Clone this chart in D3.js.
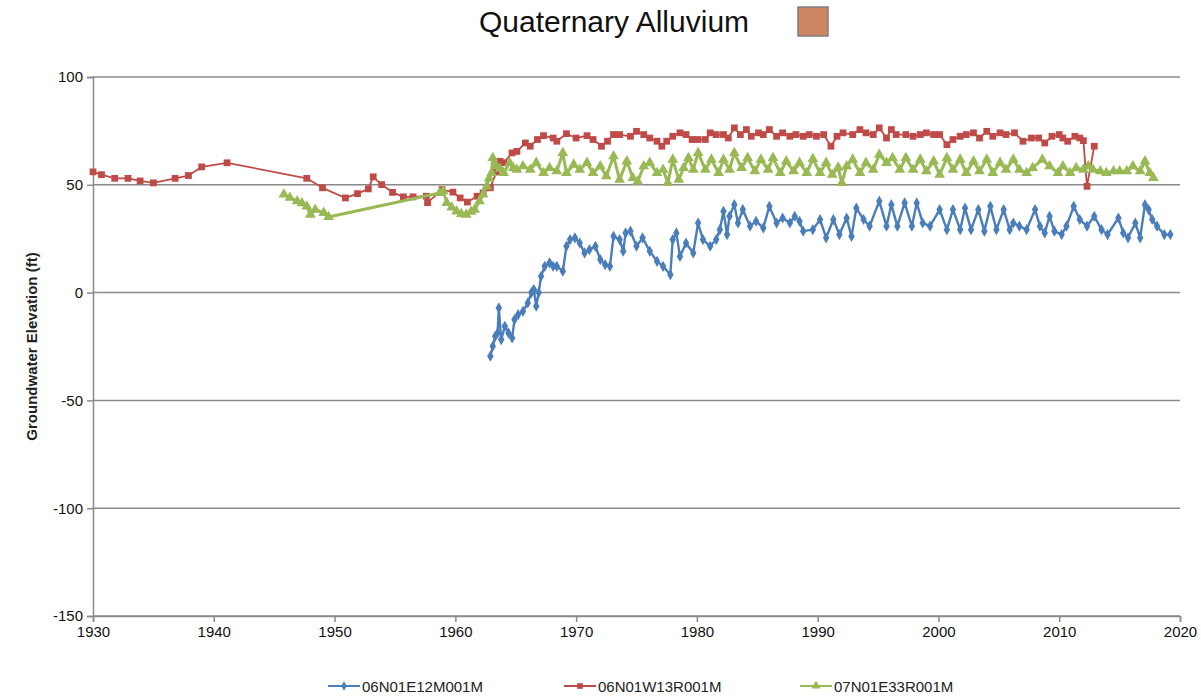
<!DOCTYPE html>
<html>
<head>
<meta charset="utf-8">
<script src="https://cdn.jsdelivr.net/npm/d3@7"></script>
<style>
  body { margin: 0; background: #fff; }
  text { font-family: "Liberation Sans", Arial, sans-serif; }
</style>
</head>
<body>
<svg width="1201" height="696"></svg>
<script>
// well hydrographs, [decimal year, elevation ft]
const bluePoints = [
  [1962.9,-29.5],[1963.1,-24.9],[1963.3,-20.3],[1963.5,-18.7],[1963.6,-7.1],[1963.8,-21.8],[1964.1,-15.6],
  [1964.4,-18.7],[1964.7,-21],[1964.9,-12.5],[1965.2,-10.2],[1965.6,-8.7],[1966.0,-4.8],[1966.3,0],
  [1966.5,1.4],[1966.7,-6.3],[1966.9,0],[1967.1,7.6],[1967.4,12.2],[1967.8,13.8],[1968.1,12.2],
  [1968.4,12.2],[1968.9,9.9],[1969.2,21.5],[1969.5,24.6],[1969.9,25.4],[1970.3,23],[1970.7,18.4],
  [1971.1,19.9],[1971.6,21.5],[1972.0,15.3],[1972.4,13],[1972.8,12.2],[1973.1,26.1],[1973.6,24.6],
  [1973.9,19.2],[1974.1,27.7],[1974.5,28.5],[1975.0,21.5],[1975.5,25.4],[1976.1,19.2],[1976.7,14.5],
  [1977.2,12.2],[1977.8,8.3],[1978.0,24.6],[1978.3,27.7],[1978.6,16.8],[1979.1,23],[1979.7,18.4],
  [1980.1,32.3],[1980.5,24.6],[1981.1,21.5],[1981.6,24.6],[1981.9,29.2],[1982.2,37.7],[1982.5,26.9],
  [1982.7,35.4],[1983.1,40.8],[1983.4,32.3],[1983.8,38.5],[1984.4,30.8],[1984.9,33.1],[1985.5,30],
  [1986.0,40],[1986.6,32.3],[1987.1,34.6],[1987.7,32.3],[1988.1,35.4],[1988.5,33.1],[1988.8,28.5],
  [1989.6,29.2],[1990.2,33.9],[1990.7,25.4],[1991.3,33.9],[1991.8,26.9],[1992.4,34.6],[1992.8,26.1],
  [1993.2,39.2],[1993.8,33.9],[1994.3,30.8],[1995.1,42.4],[1995.7,30.8],[1996.1,40.8],[1996.6,30.8],
  [1997.2,41.6],[1997.8,30.8],[1998.2,41.6],[1998.7,32.3],[1999.3,30.8],[2000.1,38.5],[2000.7,29.2],
  [2001.2,38.5],[2001.8,29.2],[2002.2,39.2],[2002.7,29.2],[2003.3,38.5],[2003.8,28.5],[2004.3,40],
  [2004.8,29.2],[2005.4,38.5],[2005.9,29.2],[2006.2,32.3],[2006.7,30.8],[2007.3,29.2],[2008.0,38.5],
  [2008.4,30.8],[2008.8,27.7],[2009.2,35.4],[2009.6,28.5],[2010.2,26.9],[2010.6,30.8],[2011.2,40],
  [2011.7,33.9],[2012.3,30.8],[2012.9,35.4],[2013.5,29.2],[2014.0,26.9],[2014.9,34.6],[2015.3,27.7],
  [2015.7,25.4],[2016.3,32.3],[2016.7,25.4],[2017.1,40.8],[2017.4,38.5],[2017.7,33.9],[2018.1,30.8],
  [2018.7,26.9],[2019.2,26.9]
];

const redPoints = [
  [1930.0,56],[1930.7,54.7],[1931.8,53],[1932.9,53],[1933.9,51.8],[1935.0,50.9],[1936.8,53],[1937.9,54.3],
  [1939.0,58.3],[1941.1,60.2],[1947.7,53],[1949.0,48.6],[1950.9,43.9],[1951.9,45.9],[1952.8,48.1],
  [1953.2,53.7],[1953.9,50.1],[1954.8,46.5],[1955.7,44.4],[1956.5,44.4],[1957.6,44.7],[1957.7,41.7],
  [1958.9,47.8],[1959.8,46.6],[1960.4,43.9],[1961.0,42],[1961.8,44.7],[1962.3,46.2],[1962.9,48.6],
  [1963.4,56],[1963.7,60.9],[1964.0,60.2],[1964.7,64.8],[1965.1,65.5],[1965.8,69.4],[1966.2,67.9],
  [1966.8,71],[1967.3,72.8],[1968.1,71.7],[1968.4,70.2],[1969.2,73.7],[1970.0,71.7],[1970.9,72.8],
  [1971.4,71],[1972.1,67.9],[1972.6,70.2],[1973.1,73.3],[1973.6,73.3],[1974.5,72.5],[1975.0,74.8],
  [1975.6,73.3],[1976.1,71.7],[1976.7,70.2],[1977.1,67.9],[1977.5,70.2],[1978.0,72.5],[1978.6,74.1],
  [1979.1,73.3],[1979.6,71],[1980.1,71],[1980.7,71],[1981.1,74.1],[1981.6,73.3],[1982.2,73.3],
  [1982.6,71.7],[1983.1,76.4],[1983.6,73.3],[1984.1,75.6],[1984.5,72.5],[1985.1,74.1],[1985.5,73.3],
  [1986.0,75.6],[1986.6,72.5],[1987.1,74.1],[1987.7,72.5],[1988.2,73.3],[1988.8,72.5],[1989.3,73.3],
  [1989.9,72.5],[1990.5,73.3],[1991.1,67.9],[1991.6,72.5],[1992.1,74.1],[1992.9,73.3],[1993.5,75.6],
  [1994.0,74.1],[1994.6,73.3],[1995.1,76.4],[1995.7,71.7],[1996.1,75.6],[1996.5,73.3],[1997.3,73.3],
  [1997.9,72.5],[1998.5,73.3],[1999.0,74.1],[1999.6,73.3],[2000.1,73.3],[2000.7,68.6],[2001.2,71],
  [2001.8,72.5],[2002.3,73.3],[2002.9,74.1],[2003.4,71.7],[2004.0,74.8],[2004.5,72.5],[2005.1,74.1],
  [2005.6,73.3],[2006.3,74.1],[2007.0,70.2],[2007.7,71.7],[2008.3,71.7],[2008.8,69.4],[2009.4,72.5],
  [2010.0,73.3],[2010.3,71.7],[2010.7,70.2],[2011.3,72.5],[2011.7,71.7],[2012.0,70.5],[2012.3,49.3],
  [2012.9,67.9]
];

const greenPoints = [
  [1945.8,45.5],[1946.3,44],[1946.9,42.4],[1947.3,41.5],[1947.7,40],[1948.0,36.2],[1948.4,38.5],
  [1949.1,37],[1949.5,35.1],[1958.7,46.2],[1959.0,47],[1959.3,41.6],[1959.7,39.5],[1960.1,37.7],
  [1960.5,36.5],[1960.9,36.2],[1961.3,37.5],[1961.6,38.5],[1962.0,42.4],[1962.3,45.5],[1962.6,49.3],
  [1962.8,53],[1963.0,55.5],[1963.1,62.5],[1963.4,58.6],[1963.7,57.5],[1964.0,55.5],[1964.5,60.2],
  [1964.8,57.8],[1965.1,57],[1965.6,58.6],[1966.2,57],[1966.7,60.2],[1967.3,55.5],[1967.8,57.8],
  [1968.4,56.3],[1968.9,64.8],[1969.2,55.5],[1969.8,59.4],[1970.3,57],[1970.9,60.2],[1971.4,55.5],
  [1972.0,58.6],[1972.5,54],[1973.1,63.3],[1973.6,52.4],[1974.2,60.9],[1974.7,53.2],[1975.1,51.6],
  [1975.6,58.6],[1976.1,60.2],[1976.7,55.5],[1977.2,57],[1977.6,50.9],[1978.0,61.7],[1978.5,52.4],
  [1978.9,57.8],[1979.3,62.5],[1979.7,57],[1980.1,64.8],[1980.7,57],[1981.2,61.7],[1981.8,55.5],
  [1982.2,61.7],[1982.7,57],[1983.1,64.8],[1983.7,57.8],[1984.2,62.5],[1984.8,56.3],[1985.3,61.7],
  [1985.9,57],[1986.3,62.5],[1986.9,55.5],[1987.4,60.9],[1988.0,56.3],[1988.5,60.2],[1989.1,55.5],
  [1989.6,62],[1990.2,55.5],[1990.7,60.2],[1991.2,54.7],[1991.7,58],[1992.0,50.9],[1992.4,58.6],
  [1992.9,61.7],[1993.5,55.5],[1994.0,60.2],[1994.6,57],[1995.1,64],[1995.7,60.2],[1996.2,62.5],
  [1996.8,57],[1997.3,62.5],[1997.9,57],[1998.5,61.7],[1999.0,56.3],[1999.6,60.9],[2000.1,54.7],
  [2000.7,62.5],[2001.2,57],[2001.8,61.7],[2002.3,55.5],[2002.9,60.9],[2003.4,56.3],[2004.0,61.7],
  [2004.5,55.5],[2005.1,60.2],[2005.6,57],[2006.2,61.7],[2006.7,57],[2007.3,55.5],[2007.8,57.8],
  [2008.6,61.7],[2009.2,58.6],[2009.9,55.5],[2010.3,58.6],[2010.9,55.5],[2011.4,57.8],[2012.0,57],
  [2012.4,58.6],[2012.8,57],[2013.4,56.3],[2013.9,55.5],[2014.5,56.3],[2015.0,56.3],[2015.6,56.3],
  [2016.1,58.6],[2016.7,56.3],[2017.1,60.9],[2017.5,55.5],[2017.8,53.2]
];

const seriesNames = ["06N01E12M001M", "06N01W13R001M", "07N01E33R001M"];
const yTicks = [-150, -100, -50, 0, 50, 100];
const xTicks = [1930, 1940, 1950, 1960, 1970, 1980, 1990, 2000, 2010, 2020];

const svg = d3.select("svg");
var width = +svg.attr("width");
var height = +svg.attr("height");

const plot = { left: 93, right: 1180, top: 77, bottom: 616 };

var x = d3.scaleLinear().domain([1930, 2020]).range([plot.left, plot.right]);
var y = d3.scaleLinear().domain([-150, 100]).range([plot.bottom, plot.top]);

svg.append("rect").attr("width", width).attr("height", height).attr("fill", "#fff");

// title + the little formation swatch
svg.append("text")
  .attr("x", 614)
  .attr("y", 32)
  .attr("text-anchor", "middle")
  .attr("font-size", 30)
  .attr("fill", "#111")
  .text("Quaternary Alluvium");
svg.append("rect")
  .attr("x", 798).attr("y", 7).attr("width", 30).attr("height", 29)
  .attr("fill", "#cc8661").attr("stroke", "#7f7f7f").attr("stroke-width", 1.5);

// horizontal gridlines
svg.append("g")
  .selectAll("line")
  .data(yTicks)
  .join("line")
  .attr("x1", plot.left)
  .attr("x2", plot.right)
  .attr("y1", function (d) { return y(d); })
  .attr("y2", function (d) { return y(d); })
  .attr("stroke", "#8a8a8a")
  .attr("stroke-width", 1.5);

// axes (plain hyphen for negatives, like the original)
var yAxis = svg.append("g")
  .attr("transform", "translate(" + plot.left + ",0)")
  .call(d3.axisLeft(y).tickValues(yTicks).tickSize(6).tickPadding(4)
    .tickFormat(function (d) { return String(d); }));
var xAxis = svg.append("g")
  .attr("transform", "translate(0," + plot.bottom + ")")
  .call(d3.axisBottom(x).tickValues(xTicks).tickSize(6).tickPadding(4)
    .tickFormat(function (d) { return String(d); }));

[yAxis, xAxis].forEach(function (g) {
  g.select(".domain").attr("stroke", "#8a8a8a").attr("stroke-width", 1.5);
  g.selectAll(".tick line").attr("stroke", "#8a8a8a").attr("stroke-width", 1.5);
  g.selectAll(".tick text")
    .attr("font-size", 15)
    .attr("font-family", "'Liberation Sans', Arial, sans-serif")
    .attr("fill", "#111");
});

svg.append("text")
  .attr("transform", "translate(31," + (y(-25)) + ") rotate(-90)")
  .attr("text-anchor", "middle")
  .attr("dominant-baseline", "central")
  .attr("font-size", 15)
  .attr("font-weight", "bold")
  .attr("fill", "#222")
  .text("Groundwater Elevation (ft)");

// series
const series = [
  { name: seriesNames[0], data: bluePoints, color: "#4a7ebb", symbol: d3.symbolDiamond, size: 36, width: 2.4 },
  { name: seriesNames[1], data: redPoints, color: "#be4b48", symbol: d3.symbolSquare, size: 46, width: 1.8 },
  { name: seriesNames[2], data: greenPoints, color: "#98b954", symbol: d3.symbolTriangle, size: 50, width: 3 }
];

var line = d3.line()
  .x(function (d) { return x(d[0]); })
  .y(function (d) { return y(d[1]); });

series.forEach(function (s) {
  var g = svg.append("g");
  g.append("path")
    .datum(s.data)
    .attr("d", line)
    .attr("fill", "none")
    .attr("stroke", s.color)
    .attr("stroke-width", s.width)
    .attr("stroke-linejoin", "round");
  g.selectAll("path.pt")
    .data(s.data)
    .join("path")
    .attr("class", "pt")
    .attr("d", d3.symbol().type(s.symbol).size(s.size))
    .attr("transform", function (d) { return "translate(" + x(d[0]) + "," + y(d[1]) + ")"; })
    .attr("fill", s.color);
});

// legend along the bottom
var legendX = [328, 564, 800];
var legend = svg.append("g")
  .selectAll("g")
  .data(series)
  .join("g")
  .attr("transform", function (d, i) { return "translate(" + legendX[i] + ",686)"; });
legend.append("line")
  .attr("x1", 0).attr("x2", 32)
  .attr("stroke", function (d) { return d.color; })
  .attr("stroke-width", 2);
legend.append("path")
  .attr("d", function (d) { return d3.symbol().type(d.symbol).size(d.size * 0.7)(); })
  .attr("transform", "translate(16,0)")
  .attr("fill", function (d) { return d.color; });
legend.append("text")
  .attr("x", 34)
  .attr("dominant-baseline", "central")
  .attr("font-size", 15)
  .attr("fill", "#222")
  .text(function (d) { return d.name; });
</script>
</body>
</html>
